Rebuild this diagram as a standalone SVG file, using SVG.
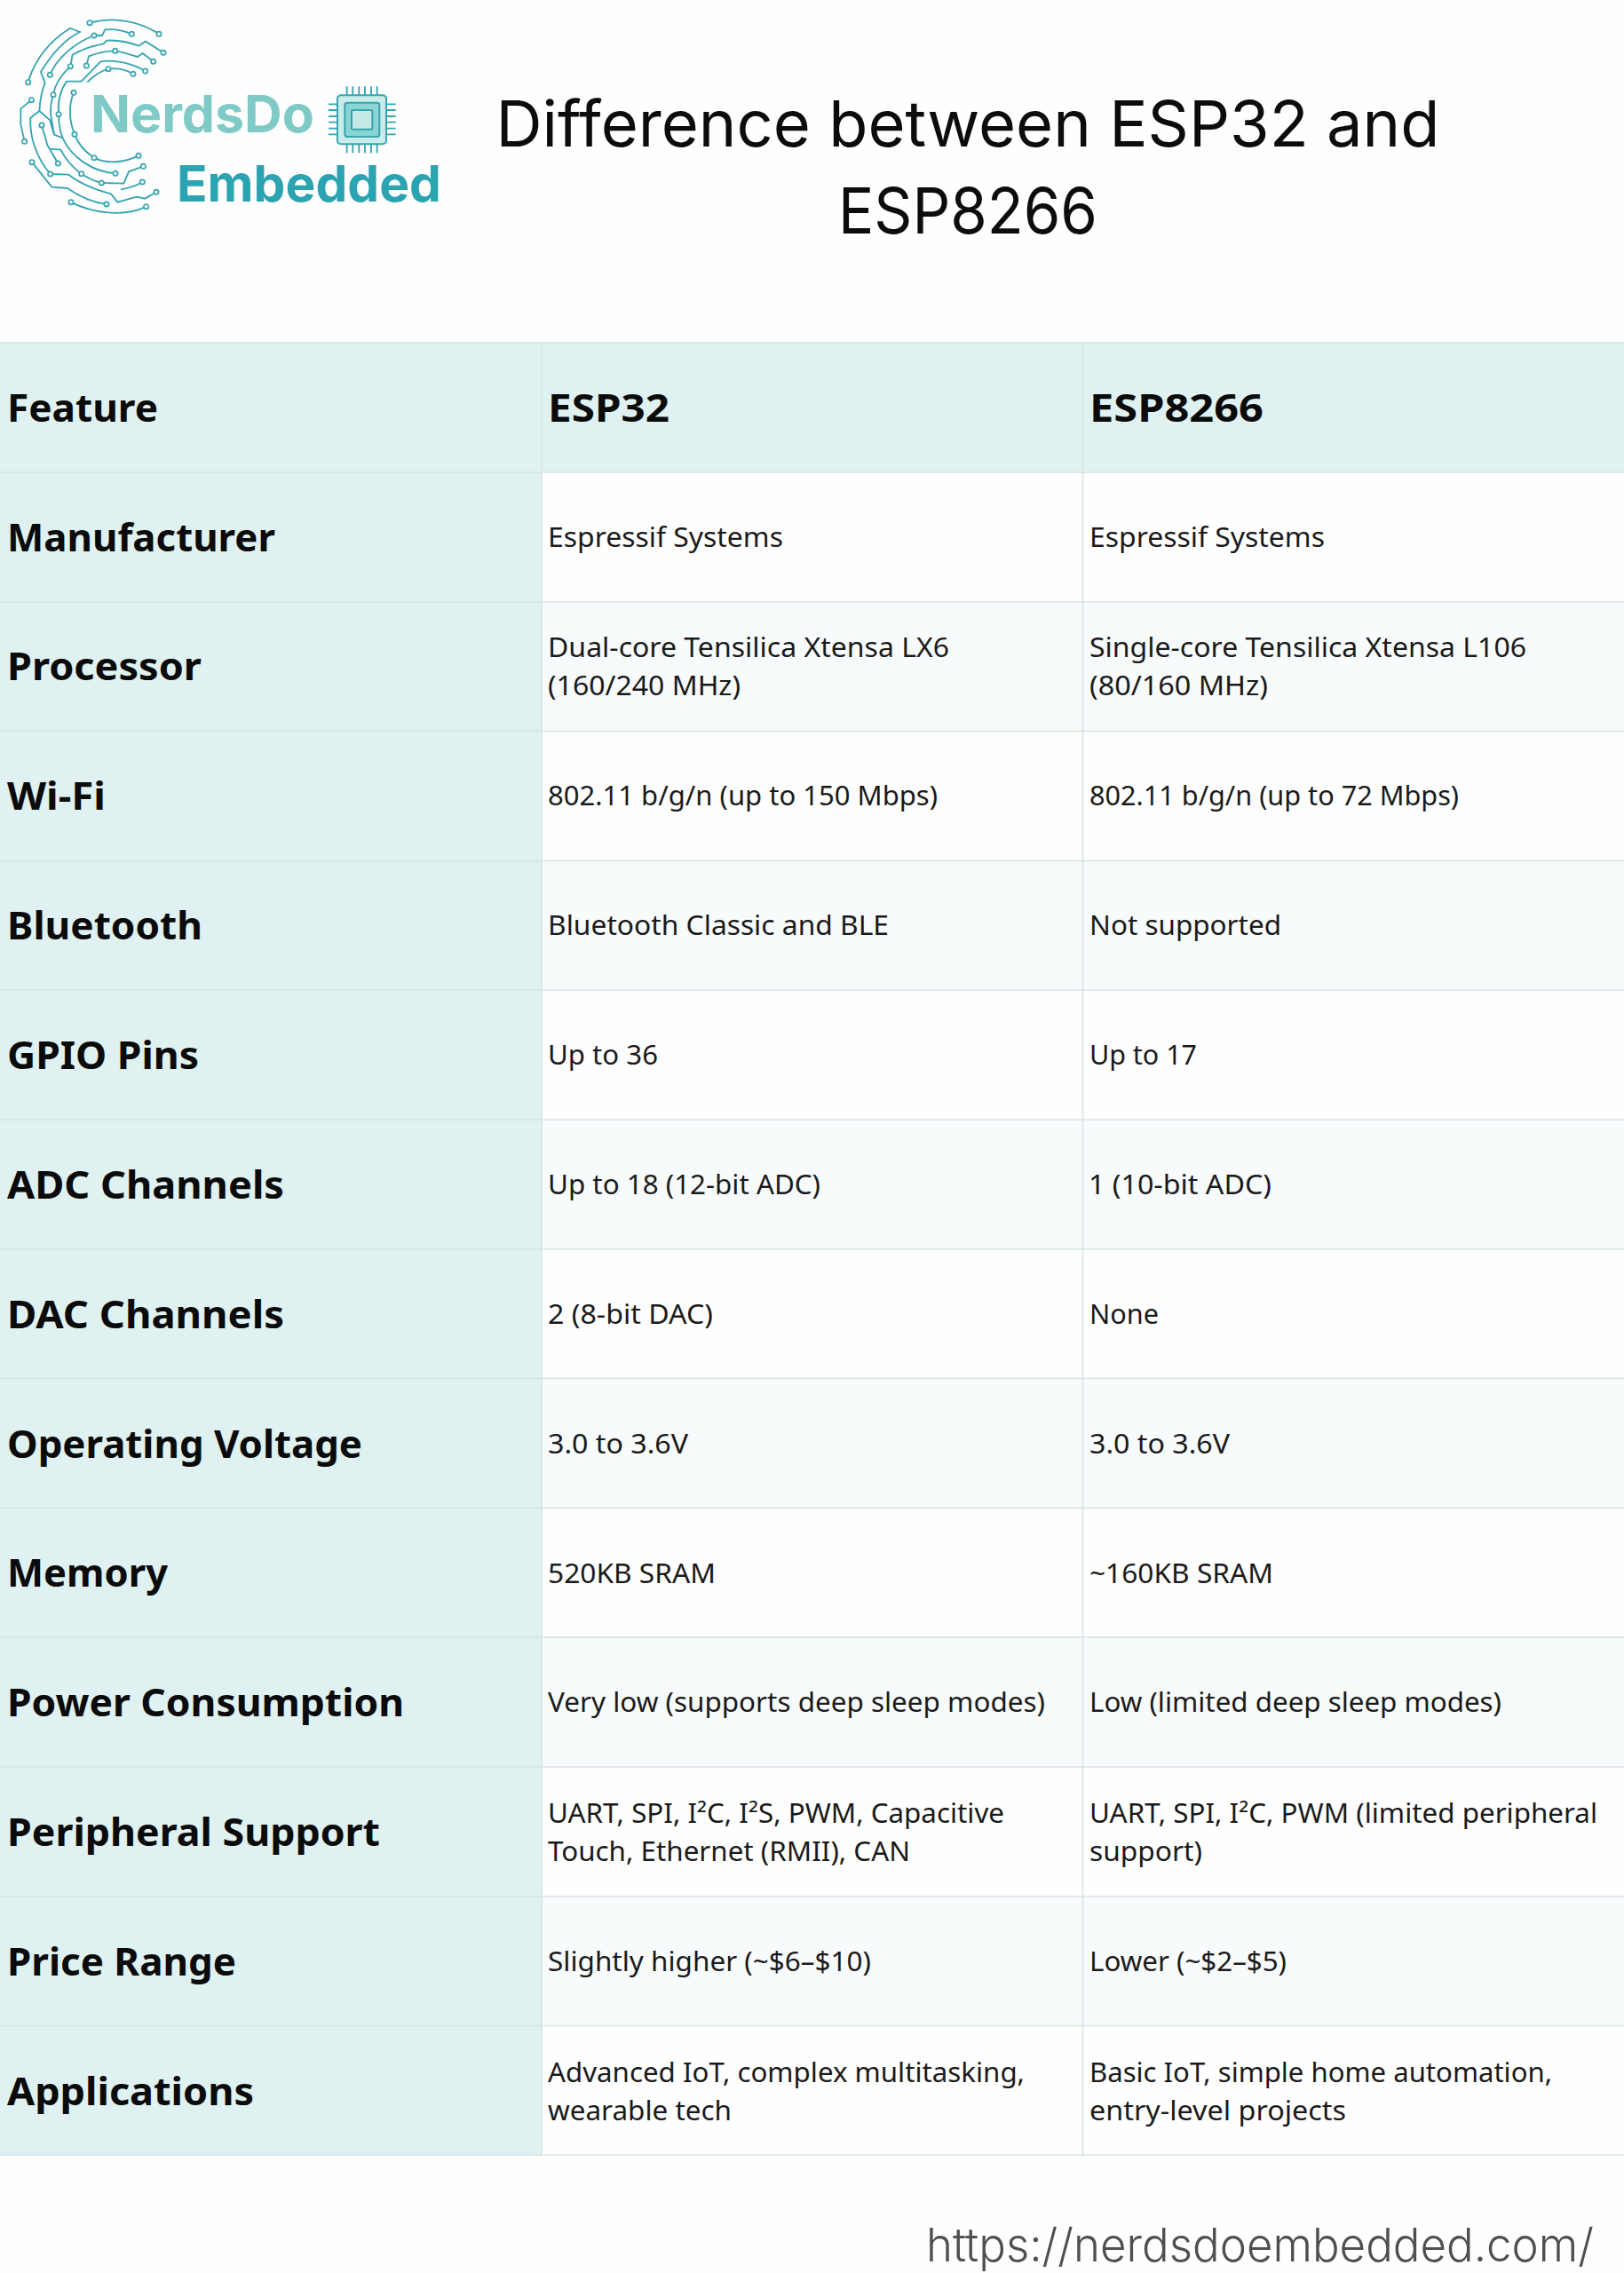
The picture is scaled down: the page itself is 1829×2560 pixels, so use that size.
<svg xmlns="http://www.w3.org/2000/svg" width="1829" height="2560" viewBox="0 0 1829 2560">
<style>
.l{font:700 43px "Noto Sans",sans-serif;fill:#0b0b0b}
.b{font:400 30px "Noto Sans",sans-serif;fill:#1a1a1a}
.t{font:400 72px Inter,"Liberation Sans",sans-serif;fill:#0c0c0c}
.u{font:300 52px Inter,"Liberation Sans",sans-serif;fill:#4f4f4f}
.h{fill:#dff1f0}.a{fill:#f8fbfc}.w{fill:#fefefe}
.g{stroke:#d6e3e3;stroke-width:1.5;fill:none}
.c{fill:none;stroke:#35a5b0;stroke-width:5.5}
.n{fill:#fff;stroke:#35a5b0;stroke-width:5}
</style>
<rect width="1829" height="2560" fill="#fefefe"/>
<g id="logo">
<g transform="scale(.33333)">
<path class="c" d="M311,75C390,55 470,75 530,110"/>
<path class="c" d="M97,270C120,200 165,140 237,95L270,108C215,135 170,190 138,243L152,280C140,310 135,340 133,375L103,398C100,460 120,530 170,588L232,590C270,620 320,640 375,655L397,683L462,665L490,671L528,649"/>
<path class="c" d="M133,375L168,405L183,455L212,467"/>
<path class="c" d="M169,253C190,200 250,145 318,120L345,120L355,100C385,97 415,102 445,115"/>
<path class="c" d="M552,178L492,140L468,155C430,140 395,135 360,137L350,148C310,155 270,170 245,185L238,224C205,255 185,285 180,320C170,350 170,380 172,390L183,455"/>
<path class="c" d="M292,222L300,190C330,178 360,172 389,172C415,175 440,185 465,192L482,180L518,208"/>
<path class="c" d="M491,240C450,215 390,200 340,208L275,275L225,275C200,310 195,350 198,386C198,420 203,445 212,467C240,530 310,580 390,586"/>
<path class="c" d="M295,278C315,258 340,240 366,233C395,228 425,235 450,250"/>
<path class="c" d="M249,313C230,360 235,410 252,454C265,490 290,515 318,533C360,555 420,550 468,526"/>
<path class="c" d="M106,338L70,368L70,420L83,478"/>
<path class="c" d="M141,423L160,490L196,552M165,503L205,506C225,545 250,570 275,587C295,600 320,612 343,618L418,620L435,580L484,562"/>
<path class="c" d="M408,640C435,636 460,628 481,615"/>
<path class="c" d="M108,548L175,632L228,636C270,665 315,685 360,690"/>
<path class="c" d="M240,683C310,720 420,735 494,698"/>
<g>
<circle class="n" cx="303" cy="77" r="8"/><circle class="n" cx="537" cy="115" r="8"/><circle class="n" cx="95" cy="278" r="8"/><circle class="n" cx="528" cy="649" r="8"/><circle class="n" cx="170" cy="588" r="8"/><circle class="n" cx="318" cy="120" r="8"/><circle class="n" cx="169" cy="253" r="8"/><circle class="n" cx="445" cy="115" r="8"/><circle class="n" cx="552" cy="178" r="8"/><circle class="n" cx="238" cy="224" r="8"/><circle class="n" cx="180" cy="320" r="8"/><circle class="n" cx="292" cy="222" r="8"/><circle class="n" cx="389" cy="172" r="8"/><circle class="n" cx="518" cy="208" r="8"/><circle class="n" cx="491" cy="240" r="8"/><circle class="n" cx="198" cy="386" r="8"/><circle class="n" cx="390" cy="586" r="8"/><circle class="n" cx="366" cy="233" r="8"/><circle class="n" cx="450" cy="250" r="8"/><circle class="n" cx="249" cy="313" r="8"/><circle class="n" cx="252" cy="454" r="8"/><circle class="n" cx="318" cy="533" r="8"/><circle class="n" cx="468" cy="526" r="8"/><circle class="n" cx="106" cy="338" r="8"/><circle class="n" cx="83" cy="478" r="8"/><circle class="n" cx="141" cy="423" r="8"/><circle class="n" cx="196" cy="552" r="8"/><circle class="n" cx="275" cy="587" r="8"/><circle class="n" cx="343" cy="618" r="8"/><circle class="n" cx="484" cy="562" r="8"/><circle class="n" cx="481" cy="615" r="8"/><circle class="n" cx="108" cy="548" r="8"/><circle class="n" cx="360" cy="690" r="8"/><circle class="n" cx="240" cy="683" r="8"/><circle class="n" cx="494" cy="698" r="8"/>
</g>
<path class="c" d="M1172,292V322M1192,292V322M1213,292V322M1233,292V322M1254,292V322M1274,292V322M1172,487V517M1192,487V517M1213,487V517M1233,487V517M1254,487V517M1274,487V517M1110,352H1140M1110,372H1140M1110,393H1140M1110,413H1140M1110,434H1140M1110,454H1140M1305,352H1337M1305,372H1337M1305,393H1337M1305,413H1337M1305,434H1337M1305,454H1337"/>
<rect x="1140" y="322" width="165" height="165" rx="12" fill="#c9ece9" stroke="#35a5b0" stroke-width="6"/>
<rect x="1165" y="347" width="117" height="115" rx="8" fill="#8ad4d3" stroke="#35a5b0" stroke-width="6"/>
<rect x="1188" y="372" width="70" height="65" rx="5" fill="#c4e9e6" stroke="#35a5b0" stroke-width="6"/>
</g>
<text x="102" y="149" font-family="Inter,'Liberation Sans',sans-serif" font-weight="700" font-size="58" fill="#7fcac6" textLength="252" lengthAdjust="spacingAndGlyphs">NerdsDo</text>
<text x="199" y="227" font-family="Inter,'Liberation Sans',sans-serif" font-weight="700" font-size="56" fill="#2ba3b0" textLength="298" lengthAdjust="spacingAndGlyphs">Embedded</text>
</g>
<g id="title" text-anchor="middle">
<text class="t" x="1090" y="165" textLength="1063" lengthAdjust="spacingAndGlyphs">Difference between ESP32 and</text>
<text class="t" x="1090" y="263" textLength="292" lengthAdjust="spacingAndGlyphs">ESP8266</text>
</g>
<g id="table-backgrounds">
<rect class="a" x="0" y="678" width="1829" height="146"/>
<rect class="a" x="0" y="969" width="1829" height="146"/>
<rect class="a" x="0" y="1261" width="1829" height="146"/>
<rect class="a" x="0" y="1553" width="1829" height="146"/>
<rect class="a" x="0" y="1844" width="1829" height="146"/>
<rect class="a" x="0" y="2136" width="1829" height="146"/>
<rect class="h" x="0" y="386" width="1829" height="146"/>
<rect class="h" x="0" y="386" width="610" height="2041"/>
</g>
<g id="table-grid" class="g">
<path d="M0,386H1829M0,532H1829M0,678H1829M0,823.5H1829M0,969.5H1829M0,1115H1829M0,1261H1829M0,1407H1829M0,1552.5H1829M0,1698.5H1829M0,1844H1829M0,1990H1829M0,2136H1829M0,2281.5H1829M0,2427H1829M610,386V2427M1219.5,386V2427"/>
</g>
<g id="row-header">
<text class="l" x="8" y="475" textLength="170" lengthAdjust="spacingAndGlyphs">Feature</text>
<text class="l" x="617" y="475" textLength="137" lengthAdjust="spacingAndGlyphs">ESP32</text>
<text class="l" x="1227" y="475" textLength="196" lengthAdjust="spacingAndGlyphs">ESP8266</text>
</g>
<g id="row-manufacturer">
<text class="l" x="8" y="621" textLength="302" lengthAdjust="spacingAndGlyphs">Manufacturer</text>
<text class="b" x="617" y="616" textLength="265" lengthAdjust="spacingAndGlyphs">Espressif Systems</text>
<text class="b" x="1227" y="616" textLength="265" lengthAdjust="spacingAndGlyphs">Espressif Systems</text>
</g>
<g id="row-processor">
<text class="l" x="8" y="766" textLength="219" lengthAdjust="spacingAndGlyphs">Processor</text>
<text class="b" x="617" y="740" textLength="452" lengthAdjust="spacingAndGlyphs">Dual-core Tensilica Xtensa LX6</text>
<text class="b" x="617" y="783" textLength="217" lengthAdjust="spacingAndGlyphs">(160/240 MHz)</text>
<text class="b" x="1227" y="740" textLength="492" lengthAdjust="spacingAndGlyphs">Single-core Tensilica Xtensa L106</text>
<text class="b" x="1227" y="783" textLength="201" lengthAdjust="spacingAndGlyphs">(80/160 MHz)</text>
</g>
<g id="row-wifi">
<text class="l" x="8" y="912" textLength="111" lengthAdjust="spacingAndGlyphs">Wi-Fi</text>
<text class="b" x="617" y="907" textLength="439" lengthAdjust="spacingAndGlyphs">802.11 b/g/n (up to 150 Mbps)</text>
<text class="b" x="1227" y="907" textLength="416" lengthAdjust="spacingAndGlyphs">802.11 b/g/n (up to 72 Mbps)</text>
</g>
<g id="row-bluetooth">
<text class="l" x="8" y="1058" textLength="220" lengthAdjust="spacingAndGlyphs">Bluetooth</text>
<text class="b" x="617" y="1053" textLength="384" lengthAdjust="spacingAndGlyphs">Bluetooth Classic and BLE</text>
<text class="b" x="1227" y="1053" textLength="216" lengthAdjust="spacingAndGlyphs">Not supported</text>
</g>
<g id="row-gpio">
<text class="l" x="8" y="1204" textLength="216" lengthAdjust="spacingAndGlyphs">GPIO Pins</text>
<text class="b" x="617" y="1199" textLength="124" lengthAdjust="spacingAndGlyphs">Up to 36</text>
<text class="b" x="1227" y="1199" textLength="121" lengthAdjust="spacingAndGlyphs">Up to 17</text>
</g>
<g id="row-adc">
<text class="l" x="8" y="1350" textLength="312" lengthAdjust="spacingAndGlyphs">ADC Channels</text>
<text class="b" x="617" y="1345" textLength="307" lengthAdjust="spacingAndGlyphs">Up to 18 (12-bit ADC)</text>
<text class="b" x="1226" y="1345" textLength="206" lengthAdjust="spacingAndGlyphs">1 (10-bit ADC)</text>
</g>
<g id="row-dac">
<text class="l" x="8" y="1496" textLength="312" lengthAdjust="spacingAndGlyphs">DAC Channels</text>
<text class="b" x="617" y="1491" textLength="186" lengthAdjust="spacingAndGlyphs">2 (8-bit DAC)</text>
<text class="b" x="1227" y="1491" textLength="78" lengthAdjust="spacingAndGlyphs">None</text>
</g>
<g id="row-voltage">
<text class="l" x="8" y="1642" textLength="400" lengthAdjust="spacingAndGlyphs">Operating Voltage</text>
<text class="b" x="617" y="1637" textLength="158" lengthAdjust="spacingAndGlyphs">3.0 to 3.6V</text>
<text class="b" x="1227" y="1637" textLength="158" lengthAdjust="spacingAndGlyphs">3.0 to 3.6V</text>
</g>
<g id="row-memory">
<text class="l" x="8" y="1787" textLength="181" lengthAdjust="spacingAndGlyphs">Memory</text>
<text class="b" x="617" y="1783" textLength="189" lengthAdjust="spacingAndGlyphs">520KB SRAM</text>
<text class="b" x="1227" y="1783" textLength="207" lengthAdjust="spacingAndGlyphs">~160KB SRAM</text>
</g>
<g id="row-power">
<text class="l" x="8" y="1933" textLength="447" lengthAdjust="spacingAndGlyphs">Power Consumption</text>
<text class="b" x="617" y="1928" textLength="560" lengthAdjust="spacingAndGlyphs">Very low (supports deep sleep modes)</text>
<text class="b" x="1227" y="1928" textLength="464" lengthAdjust="spacingAndGlyphs">Low (limited deep sleep modes)</text>
</g>
<g id="row-peripheral">
<text class="l" x="8" y="2079" textLength="420" lengthAdjust="spacingAndGlyphs">Peripheral Support</text>
<text class="b" x="617" y="2053" textLength="514" lengthAdjust="spacingAndGlyphs">UART, SPI, I²C, I²S, PWM, Capacitive</text>
<text class="b" x="617" y="2096" textLength="408" lengthAdjust="spacingAndGlyphs">Touch, Ethernet (RMII), CAN</text>
<text class="b" x="1227" y="2053" textLength="572" lengthAdjust="spacingAndGlyphs">UART, SPI, I²C, PWM (limited peripheral</text>
<text class="b" x="1227" y="2096" textLength="127" lengthAdjust="spacingAndGlyphs">support)</text>
</g>
<g id="row-price">
<text class="l" x="8" y="2225" textLength="258" lengthAdjust="spacingAndGlyphs">Price Range</text>
<text class="b" x="617" y="2220" textLength="364" lengthAdjust="spacingAndGlyphs">Slightly higher (~$6–$10)</text>
<text class="b" x="1227" y="2220" textLength="222" lengthAdjust="spacingAndGlyphs">Lower (~$2–$5)</text>
</g>
<g id="row-applications">
<text class="l" x="8" y="2371" textLength="278" lengthAdjust="spacingAndGlyphs">Applications</text>
<text class="b" x="617" y="2345" textLength="537" lengthAdjust="spacingAndGlyphs">Advanced IoT, complex multitasking,</text>
<text class="b" x="617" y="2388" textLength="207" lengthAdjust="spacingAndGlyphs">wearable tech</text>
<text class="b" x="1227" y="2345" textLength="521" lengthAdjust="spacingAndGlyphs">Basic IoT, simple home automation,</text>
<text class="b" x="1227" y="2388" textLength="289" lengthAdjust="spacingAndGlyphs">entry-level projects</text>
</g>
<g id="url">
<text class="u" x="1043" y="2547" textLength="752" lengthAdjust="spacingAndGlyphs">https://nerdsdoembedded.com/</text>
</g>
</svg>
